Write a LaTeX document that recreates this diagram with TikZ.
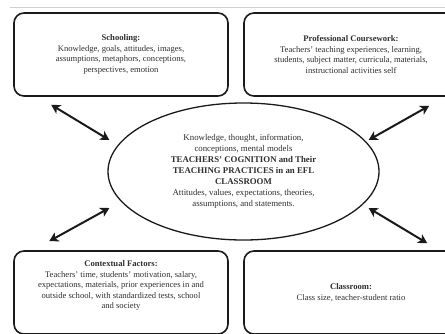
\documentclass[tikz,border=0pt]{standalone}
\usepackage{fontspec}
\setmainfont{Liberation Serif}
\usetikzlibrary{arrows.meta,shapes.geometric}
\definecolor{txt}{HTML}{2E2E2E}
\definecolor{ink}{HTML}{1A1A1A}
\tikzset{
  infobox/.style={draw=ink, line width=1.6pt, rounded corners=10pt, minimum width=214pt, minimum height=83pt,
    align=center, font=\fontsize{8.6}{10.5}\selectfont, text=txt, inner sep=0pt},
  cogell/.style={draw=ink, ellipse, line width=1.3pt, minimum width=271pt, minimum height=137pt,
    align=center, font=\fontsize{8.8}{10.9}\selectfont, text=txt, inner sep=0pt},
  biarrow/.style={draw=ink, line width=2pt, {Stealth[length=9pt,width=10pt,inset=2.5pt]}-{Stealth[length=9pt,width=10pt,inset=2.5pt]}},
  topline/.style={draw=black!18, line width=0.8pt}
}
\begin{document}
\begin{tikzpicture}[x=1pt,y=-1pt]
\useasboundingbox (0,0) rectangle (445,333);
\clip (0,0) rectangle (445,333);
\coordinate (lineL) at (10,7.5);
\coordinate (lineR) at (445,7.5);
\draw[topline] (lineL) -- (lineR);

\node[infobox] (school) at (121,54.5) {\textbf{Schooling:}\\Knowledge, goals, attitudes, images,\\assumptions, metaphors, conceptions,\\perspectives, emotion};
\node[infobox] (prof) at (351,54.5) {\textbf{Professional Coursework:}\\Teachers’ teaching experiences, learning,\\students, subject matter, curricula, materials,\\instructional activities self};
\node[infobox] (ctx) at (121,292.5) {\textbf{Contextual Factors:}\\Teachers’ time, students’ motivation, salary,\\expectations, materials, prior experiences in and\\outside school, with standardized tests, school\\and society\\[5pt]};
\node[infobox] (class) at (351,292.5) {\textbf{Classroom:}\\Class size, teacher-student ratio};

\node[cogell] (cog) at (243.5,171.5) {Knowledge, thought, information,\\conceptions, mental models\\\textbf{TEACHERS’ COGNITION and Their}\\\textbf{TEACHING PRACTICES in an EFL}\\\textbf{CLASSROOM}\\Attitudes, values, expectations, theories,\\assumptions, and statements.};

\draw[biarrow] ([shift={(38,8)}]school.south west) -- ([shift={(2,-31.5)}]cog.west);
\draw[biarrow] ([shift={(186,9)}]prof.south west) -- ([shift={(-11,-31.5)}]cog.east);
\draw[biarrow] ([shift={(2,36.5)}]cog.west) -- ([shift={(36,-9)}]ctx.north west);
\draw[biarrow] ([shift={(-11,36.5)}]cog.east) -- ([shift={(184,-7)}]class.north west);
\end{tikzpicture}
\end{document}
